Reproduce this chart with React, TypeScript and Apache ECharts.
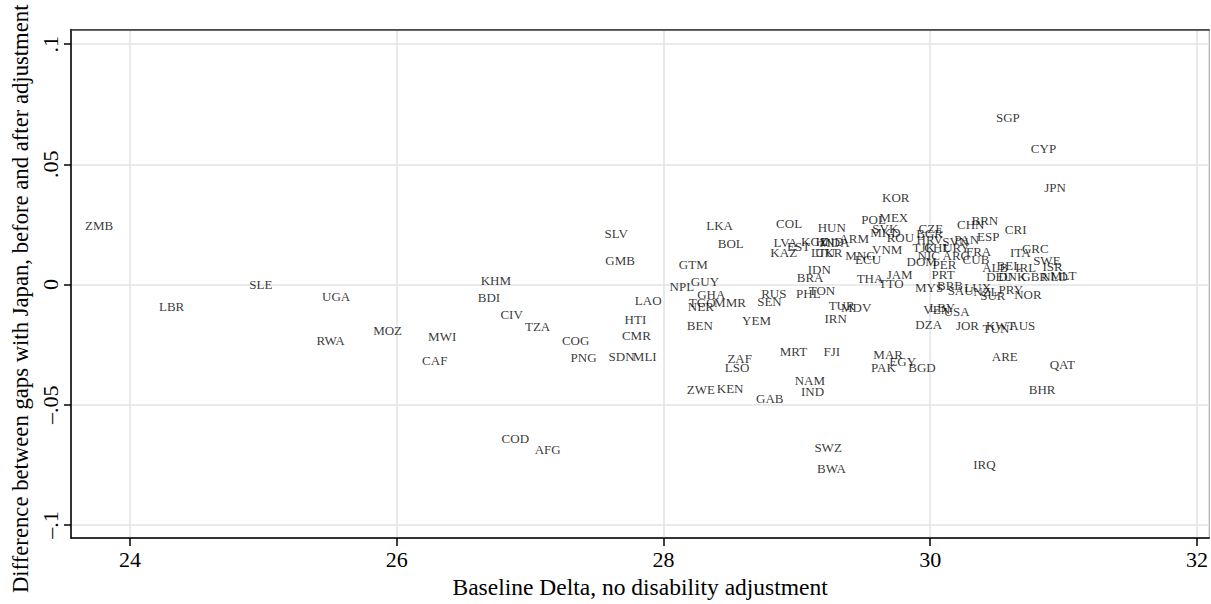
import React, { useEffect, useRef } from "react";
import * as echarts from "echarts";

const countries = [
  "ZMB","LBR","SLE","UGA","RWA","MOZ","MWI","CAF",
  "KHM","BDI","CIV","TZA","COG","PNG","SDN","MLI","CMR","HTI","LAO","SLV","GMB",
  "LKA","BOL","GTM","GUY","NPL","GHA","TGO","MMR","NER","RUS","SEN","BEN","YEM",
  "COL","LVA","KAZ","EST","KGZ","HND","MDA","ARM","LTU","UKR","MNG","HUN","IDN","BRA","PHL","TON",
  "TUR","MDV","IRN","MRT","FJI","ZAF","LSO","ZWE","KEN","GAB","NAM","IND","SWZ","BWA","COD","AFG",
  "KOR","POL","MEX","SVK","MKD","ROU","VNM","ECU","THA","TTO","JAM",
  "CZE","BGR","HRV","SVN","PAN","TJK","CHL","URY","FRA","ESP","CHN","BRN","CRI","NIC","ARG","CUB","DOM","PER","PRT",
  "ALB","BEL","IRL","DEU","DNK","GBR","NLD","MLT","ISR","SWE","GRC","ITA","SGP","CYP","JPN",
  "PRY","NOR","NZL","SUR","MYS","BRB","SAU","LUX","VEN","LBY","USA","DZA","JOR","KWT","TUN","AUS",
  "MAR","EGY","PAK","BGD","ARE","QAT","BHR","IRQ"
];

const baselineDelta = [
  23.663, 24.217, 24.894, 25.440, 25.398, 25.823, 26.235, 26.190,
  26.629, 26.607, 26.777, 26.961, 27.238, 27.303, 27.588, 27.770, 27.688, 27.708, 27.785, 27.558, 27.563,
  28.320, 28.407, 28.115, 28.205, 28.045, 28.252, 28.190, 28.379, 28.182, 28.732, 28.702, 28.175, 28.589,
  28.844, 28.824, 28.801, 28.926, 29.031, 29.139, 29.168, 29.318, 29.106, 29.136, 29.362, 29.156, 29.081, 28.999, 28.994, 29.089,
  29.238, 29.331, 29.206, 28.871, 29.200, 28.479, 28.459, 28.175, 28.399, 28.694, 28.983, 29.031, 29.131, 29.151, 26.786, 27.034,
  29.638, 29.483, 29.618, 29.565, 29.550, 29.673, 29.563, 29.436, 29.448, 29.613, 29.673,
  29.912, 29.895, 29.897, 30.090, 30.180, 29.867, 29.955, 30.097, 30.267, 30.350, 30.200, 30.309, 30.559, 29.905, 30.092, 30.242, 29.822, 30.017, 30.010,
  30.389, 30.497, 30.637, 30.419, 30.509, 30.682, 30.831, 30.899, 30.841, 30.771, 30.687, 30.597, 30.492, 30.754, 30.854,
  30.512, 30.629, 30.322, 30.374, 29.885, 30.050, 30.130, 30.255, 29.948, 29.992, 30.100, 29.888, 30.192, 30.417, 30.392, 30.592,
  29.573, 29.693, 29.556, 29.835, 30.461, 30.895, 30.738, 30.322
];

const gapDifference = [
  0.0244, -0.0090, -0.0001, -0.0049, -0.0233, -0.0191, -0.0215, -0.0318,
  0.0016, -0.0056, -0.0124, -0.0175, -0.0232, -0.0304, -0.0300, -0.0300, -0.0211, -0.0146, -0.0068, 0.0214, 0.0101,
  0.0247, 0.0169, 0.0082, 0.0014, -0.0008, -0.0042, -0.0075, -0.0076, -0.0090, -0.0038, -0.0070, -0.0169, -0.0151,
  0.0255, 0.0173, 0.0135, 0.0157, 0.0179, 0.0179, 0.0175, 0.0193, 0.0135, 0.0135, 0.0119, 0.0238, 0.0064, 0.0031, -0.0036, -0.0025,
  -0.0086, -0.0097, -0.0140, -0.0279, -0.0279, -0.0307, -0.0346, -0.0436, -0.0432, -0.0473, -0.0399, -0.0444, -0.0677, -0.0767, -0.0642, -0.0687,
  0.0361, 0.0269, 0.0277, 0.0233, 0.0217, 0.0196, 0.0146, 0.0105, 0.0023, 0.0003, 0.0040,
  0.0234, 0.0213, 0.0189, 0.0180, 0.0188, 0.0153, 0.0153, 0.0153, 0.0139, 0.0198, 0.0251, 0.0266, 0.0228, 0.0121, 0.0121, 0.0105, 0.0095, 0.0082, 0.0041,
  0.0070, 0.0078, 0.0070, 0.0033, 0.0033, 0.0033, 0.0033, 0.0037, 0.0075, 0.0102, 0.0148, 0.0132, 0.0695, 0.0565, 0.0405,
  -0.0022, -0.0041, -0.0029, -0.0045, -0.0013, -0.0004, -0.0025, -0.0013, -0.0106, -0.0097, -0.0113, -0.0168, -0.0170, -0.0172, -0.0181, -0.0172,
  -0.0290, -0.0320, -0.0345, -0.0345, -0.0301, -0.0331, -0.0436, -0.0747
];

const xTicks = [24, 26, 28, 30, 32];
const yTicks = [-0.1, -0.05, 0, 0.05, 0.1];
const yTickLabels = ["\u2013.1", "\u2013.05", "0", ".05", ".1"];

const xTitle = "Baseline Delta, no disability adjustment";
const yTitle = "Difference between gaps with Japan, before and after adjustment";

const FONT = "'Liberation Serif', 'DejaVu Serif', serif";

export default function App() {
  const ref = useRef<HTMLDivElement>(null);
  useEffect(() => {
    if (!ref.current) return;
    const chart = echarts.init(ref.current, undefined, { renderer: "svg" });
    const points = countries.map((c, i) => ({ name: c, value: [baselineDelta[i], gapDifference[i]] }));
    chart.setOption({
      animation: false,
      backgroundColor: "#ffffff",
      grid: { left: 71, right: 1, top: 29.5, bottom: 57, show: true, borderColor: "#9a9a9a", borderWidth: 1, containLabel: false },
      xAxis: [
        {
          type: "value",
          min: 23.558,
          max: 32.092,
          position: "bottom",
          axisLine: { show: true, onZero: false, lineStyle: { color: "#000", width: 1.5 } },
          axisTick: { show: true, length: 8, customValues: xTicks, lineStyle: { color: "#000", width: 1.5 } },
          axisLabel: { customValues: xTicks, color: "#000", fontFamily: FONT, fontSize: 22, margin: 10 },
          splitLine: { show: true, lineStyle: { color: "#e3e3e3", width: 1.5 } },
          name: xTitle,
          nameLocation: "middle",
          nameGap: 33,
          nameTextStyle: { color: "#000", fontFamily: FONT, fontSize: 23.5 },
        },
        {
          type: "value",
          min: 23.558,
          max: 32.092,
          position: "top",
          axisLine: { show: true, onZero: false, lineStyle: { color: "#333", width: 1.5 } },
          axisTick: { show: false },
          axisLabel: { show: false },
          splitLine: { show: false },
        },
      ],
      yAxis: {
        type: "value",
        min: -0.1055,
        max: 0.1061,
        axisLine: { show: true, onZero: false, lineStyle: { color: "#000", width: 1.5 } },
        axisTick: { show: true, length: 7, customValues: yTicks, lineStyle: { color: "#000", width: 1.5 } },
        axisLabel: {
          customValues: yTicks,
          rotate: 90,
          color: "#000",
          fontFamily: FONT,
          fontSize: 22,
          margin: 9.5,
          formatter: (v: number) => {
            const idx = yTicks.findIndex((t) => Math.abs(t - v) < 1e-9);
            return idx >= 0 ? yTickLabels[idx] : "";
          },
        },
        splitLine: { show: true, lineStyle: { color: "#e3e3e3", width: 1.5 } },
        name: yTitle,
        nameLocation: "middle",
        nameRotate: 90,
        nameGap: 38,
        nameTextStyle: { color: "#000", fontFamily: FONT, fontSize: 22.7, padding: [0, 30, 0, 0] },
      },
      series: [
        {
          type: "scatter",
          data: points,
          symbolSize: 0.1,
          itemStyle: { color: "rgba(0,0,0,0)" },
          silent: true,
          label: {
            show: true,
            position: "right",
            distance: 0,
            offset: [0, 1.5],
            formatter: "{b}",
            color: "#000",
            fontFamily: FONT,
            fontSize: 13,
          },
          emphasis: { disabled: true },
          labelLayout: { hideOverlap: false },
        },
      ],
    });
    return () => chart.dispose();
  }, []);
  return (
    <div
      ref={ref}
      style={{ position: "fixed", left: 0, top: 0, width: 1211, height: 604, background: "#fff" }}
    />
  );
}
